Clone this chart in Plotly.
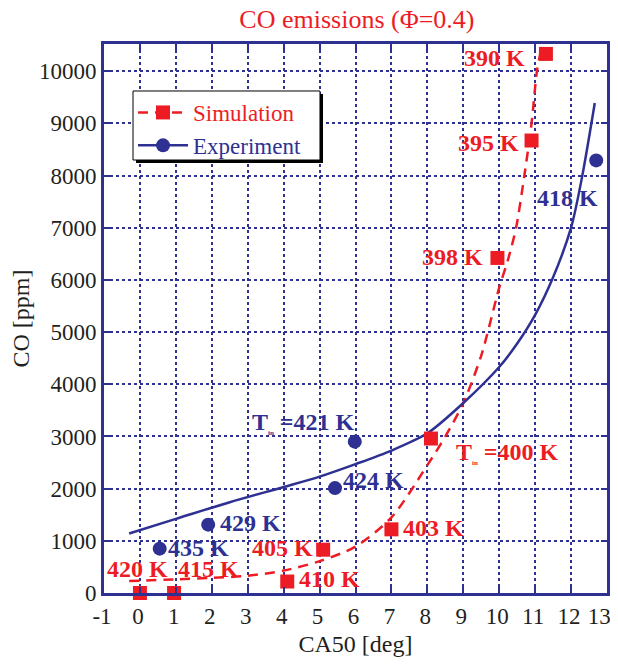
import plotly.graph_objects as go

RED = "#ED1C24"
BLUE = "#2E3192"
SERIF = "Liberation Serif"

# Simulation points (CA50 [deg], CO [ppm])
sim_x = [0.0, 0.95, 4.1, 5.1, 7.0, 8.1, 9.95, 10.9, 11.3]
sim_y = [0, 0, 220, 830, 1220, 2960, 6420, 8670, 10330]
sim_labels = ["420 K", "415 K", "410 K", "405 K", "403 K",
              "T<sub><span style='font-size:7px'>in</span></sub> =400 K",
              "398 K", "395 K", "390 K"]
sim_label_x = [-0.08, 1.92, 5.29, 3.96, 8.18, 10.24, 8.69, 9.69, 9.88]
sim_label_y = [460, 460, 270, 860, 1245, 2680, 6440, 8620, 10250]

# Experiment points
exp_x = [0.55, 1.9, 5.43, 5.98, 12.7]
exp_y = [850, 1310, 2010, 2900, 8290]
exp_labels = ["435 K", "429 K", "424 K",
              "T<sub><span style='font-size:7px'>in</span></sub> =421 K", "418 K"]
exp_label_x = [1.64, 3.09, 6.49, 4.54, 11.89]
exp_label_y = [860, 1340, 2160, 3260, 7570]

# Fit curves
sim_fit_x = [-0.3, 1, 2, 3, 4, 5, 6, 7, 8, 8.5, 9, 9.5, 10, 10.25, 10.47, 10.7, 10.9, 11.05, 11.15]
sim_fit_y = [230, 260, 290, 330, 430, 610, 890, 1450, 2450, 3000, 3640, 4550, 5850, 6400, 7000, 8000, 9000, 10000, 10350]
exp_fit_x = [-0.3, 1, 2.5, 4, 5, 6, 7, 8, 9, 10, 10.5, 11, 11.5, 12, 12.3, 12.66]
exp_fit_y = [1140, 1420, 1740, 2030, 2230, 2470, 2730, 3060, 3640, 4330, 4780, 5330, 6050, 7000, 7950, 9390]

x_ticks = list(range(-1, 14))
x_tick_text = [str(v) for v in x_ticks[:-1]] + ["13\u00a0\u00a0"]
y_ticks = list(range(0, 10001, 1000))

# legend box (paper coords) and its drop shadow
legend_box = [0.0577, 0.4294, 0.7887, 0.9144]
shadow_off = [0.006, -0.0055]

fig = go.Figure()

fig.add_trace(go.Scatter(x=sim_fit_x, y=sim_fit_y, mode="lines", showlegend=False,
                         line=dict(color=RED, width=2.5, dash="10px,7px", shape="spline", smoothing=0.8),
                         hoverinfo="skip"))
fig.add_trace(go.Scatter(x=exp_fit_x, y=exp_fit_y, mode="lines", showlegend=False,
                         line=dict(color=BLUE, width=2.5, shape="spline", smoothing=0.8),
                         hoverinfo="skip"))
fig.add_trace(go.Scatter(x=sim_x, y=sim_y, mode="markers", showlegend=False,
                         marker=dict(symbol="square", size=14, color=RED), cliponaxis=False))
fig.add_trace(go.Scatter(x=exp_x, y=exp_y, mode="markers", showlegend=False,
                         marker=dict(symbol="circle", size=14, color=BLUE), cliponaxis=False))

# legend entries
fig.add_trace(go.Scatter(x=[None], y=[None], mode="lines+markers",
                         name=f"<span style='color:{RED}'>Simulation</span>",
                         line=dict(color=RED, width=2.5, dash="10px,7px"),
                         marker=dict(symbol="square", size=14, color=RED)))
fig.add_trace(go.Scatter(x=[None], y=[None], mode="lines+markers",
                         name=f"<span style='color:{BLUE}'>Experiment</span>",
                         line=dict(color=BLUE, width=2.5),
                         marker=dict(symbol="circle", size=14, color=BLUE)))

annotations = []
for t, x, y in zip(sim_labels, sim_label_x, sim_label_y):
    annotations.append(dict(x=x, y=y, text=f"<b>{t}</b>", showarrow=False,
                            font=dict(family=SERIF, size=24, color=RED),
                            xanchor="center", yanchor="middle"))
for t, x, y in zip(exp_labels, exp_label_x, exp_label_y):
    annotations.append(dict(x=x, y=y, text=f"<b>{t}</b>", showarrow=False,
                            font=dict(family=SERIF, size=24, color=BLUE),
                            xanchor="center", yanchor="middle"))

axis_common = dict(
    showgrid=True, gridcolor=BLUE, griddash="dot", gridwidth=2,
    showline=True, linecolor=BLUE, linewidth=3, mirror="ticks",
    ticks="inside", ticklen=6, tickwidth=2, tickcolor=BLUE,
    zeroline=False, automargin=False, ticklabeloverflow="allow",
    tickfont=dict(family=SERIF, size=23, color="#231F20"),
)

fig.update_layout(
    width=610, height=650,
    margin=dict(l=96, r=11, t=36, b=65),
    paper_bgcolor="white", plot_bgcolor="white",
    title=dict(text="CO emissions (Φ=0.4)", x=0.572, xanchor="center",
               y=0.984, yanchor="middle", yref="container",
               font=dict(family=SERIF, size=26, color=RED)),
    xaxis=dict(range=[-1, 13], tickvals=x_ticks, ticktext=x_tick_text,
               ticklabelshift=-2,
               title=dict(text="CA50 [deg]", font=dict(family=SERIF, size=24, color="#231F20"), standoff=8),
               **axis_common),
    yaxis=dict(range=[0, 10520], tickvals=y_ticks, ticktext=[str(v) for v in y_ticks],
               title=dict(text="CO [ppm]", font=dict(family=SERIF, size=24, color="#231F20"), standoff=10),
               **axis_common),
    legend=dict(x=legend_box[0], y=legend_box[3], xanchor="left", yanchor="top",
                bgcolor="rgba(0,0,0,0)", borderwidth=0,
                font=dict(family=SERIF, size=23), itemwidth=50,
                tracegroupgap=0),
    annotations=annotations,
    shapes=[
        dict(type="rect", xref="paper", yref="paper",
             x0=legend_box[0] + shadow_off[0], x1=legend_box[1] + shadow_off[0],
             y0=legend_box[2] + shadow_off[1], y1=legend_box[3] + shadow_off[1],
             fillcolor="black", line=dict(width=0), layer="above"),
        dict(type="rect", xref="paper", yref="paper",
             x0=legend_box[0], x1=legend_box[1], y0=legend_box[2], y1=legend_box[3],
             fillcolor="white", line=dict(width=1, color="black"), layer="above"),
    ],
    showlegend=True,
)

fig.write_html("out.html")
